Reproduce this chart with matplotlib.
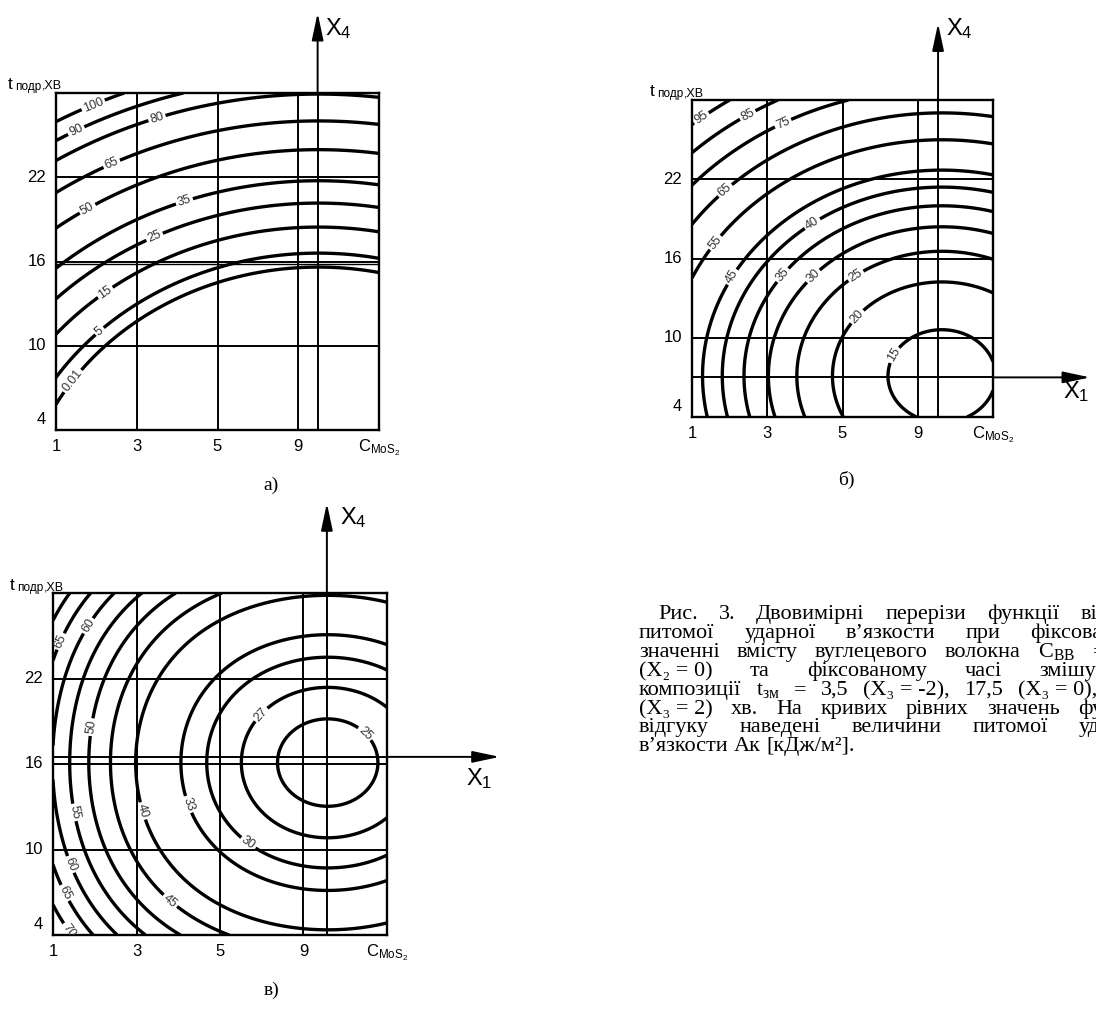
import numpy as np
import matplotlib
matplotlib.use('Agg')
import matplotlib.pyplot as plt

plt.rcParams['font.family'] = ['Liberation Sans', 'DejaVu Sans']
plt.rcParams['mathtext.fontset'] = 'custom'
plt.rcParams['mathtext.rm'] = 'Liberation Sans'
plt.rcParams['mathtext.it'] = 'Liberation Sans:italic'
plt.rcParams['mathtext.bf'] = 'Liberation Sans:bold'

W, H, DPI = 1096, 1019, 100

# ---------------- data ----------------
x_tick_labels = ['1', '3', '5', '9']      # C_MoS2 columns (drawn equally spaced)
y_tick_values = [4, 10, 16, 22]           # t_подр, хв
t_min, t_max = 4, 28

levels_a = [0.01, 5, 15, 25, 35, 50, 65, 80, 90, 100]
levels_b = [15, 20, 25, 30, 35, 40, 45, 55, 65, 75, 85, 95]
levels_c = [25, 27, 30, 33, 40, 45, 50, 55, 60, 65, 70, 75]

# response-surface coefficients (centred quadratic, then outer quadratic transform)
coef_a = dict(u0=3.25, t0=15.6, bu=0.0, bt=4.89, buu=3.35, btt=0.13, but=0.0, buutt=0.0,
              b0=0.0, c1=1.0, c2=0.0)
coef_b = dict(u0=3.32, t0=7.1, bu=0.0, bt=0.0, buu=1.0, btt=0.0416, but=0.0, buutt=0.0,
              b0=13.4, c1=3.125, c2=0.0)
coef_c = dict(u0=3.29, t0=16.1, bu=0.0, bt=0.0, buu=1.0, btt=0.0384, but=0.0, buutt=-0.0012,
              b0=24.0, c1=2.75, c2=0.052)

# contour-label anchors (level, column position, t)
labels_a = [(100, 0.44, 27.4), (90, 0.24, 25.5), (80, 1.23, 26.6), (65, 0.69, 23.0),
            (50, 0.42, 19.45), (35, 1.57, 20.6), (25, 1.23, 17.7), (15, 0.61, 13.8),
            (5, 0.56, 10.9), (0.01, 0.27, 7.2)]
labels_b = [(95, 0.17, 26.3), (85, 0.73, 27.0), (75, 1.21, 26.2), (65, 0.48, 20.9),
            (55, 0.35, 17.0), (45, 0.53, 14.6), (35, 1.21, 14.7), (30, 1.59, 14.8),
            (25, 2.14, 15.0), (40, 1.58, 18.8), (20, 2.2, 11.6), (15, 2.64, 8.85)]
labels_c = [(25, 3.74, 18.2), (27, 2.56, 19.1), (30, 2.37, 10.7), (33, 1.68, 13.3),
            (40, 1.2, 12.9), (45, 1.52, 7.2), (50, 0.44, 18.6), (55, 0.26, 12.6),
            (60, 0.26, 9.05), (65, 0.23, 7.2), (70, 0.45, 5.4), (60, 0.48, 25.5),
            (65, 0.17, 24.4)]

caption_lines = [
    (658, 619, ["Рис.", "3.", "Двовимірні", "перерізи", "функції", "відгуку"], True),
    (639, 638, ["питомої", "ударної", "в’язкости", "при", "фіксованому"], True),
    (639, 657, ["значенні", "вмісту", "вуглецевого", "волокна", r"C$_{\mathregular{BB}}$", "=", "7,5"], True),
    (639, 676, ["(X₂ = 0)", "та", "фіксованому", "часі", "змішування"], True),
    (639, 695, ["композиції", r"t$_{\mathregular{зм}}$", "=", "3,5", "(X₃ = -2),",
                "17,5", "(X₃ = 0),", "31,5"], True),
    (639, 714, ["(X₃ = 2)", "хв.", "На", "кривих", "рівних", "значень", "функції"], True),
    (639, 732, ["відгуку", "наведені", "величини", "питомої", "ударної"], True),
    (639, 751, ["в’язкости", "Ак", "[кДж/м²]."], False),
]


def surface(c, U, T):
    Uc = U - c['u0']
    Tc = T - c['t0']
    base = (c['bu'] * Uc + c['bt'] * Tc + c['buu'] * Uc ** 2 +
            c['btt'] * Tc ** 2 + c['but'] * Uc * Tc + c['buutt'] * Uc ** 2 * Tc ** 2)
    return c['b0'] + c['c1'] * base + c['c2'] * base ** 2


fig = plt.figure(figsize=(W / DPI, H / DPI), dpi=DPI)
fig.patch.set_facecolor('white')


def ptext(x, y, s, **kw):
    return fig.text(x / W, 1 - y / H, s, **kw)


ARROW = dict(arrowstyle='-|>,head_length=0.75,head_width=0.16', color='k',
             lw=1.4, shrinkA=0, shrinkB=0, mutation_scale=22)


def draw_panel(box, coef, levels, labels, x4_u, x4_top, x4_lab, ylab_xy, letter, letter_xy,
               x1=None, extra_h=None):
    l, t, r, b = box
    ax = fig.add_axes([l / W, 1 - b / H, (r - l) / W, (b - t) / H])
    ax.set_xlim(0, 4)
    ax.set_ylim(t_min, t_max)
    ax.set_xticks([])
    ax.set_yticks([])
    for s in ax.spines.values():
        s.set_linewidth(1.7)
    for u in (1, 2, 3):
        ax.axvline(u, color='k', lw=1.4)
    for tt in y_tick_values[1:]:
        ax.axhline(tt, color='k', lw=1.4)
    ax.axvline(x4_u, color='k', lw=1.4)
    if extra_h is not None:
        ax.axhline(extra_h, color='k', lw=1.0)

    u = np.linspace(0, 4, 401)
    tg = np.linspace(t_min, t_max, 481)
    UU, TT = np.meshgrid(u, tg)
    Z = surface(coef, UU, TT)
    lv = sorted(levels)
    cs = ax.contour(UU, TT, Z, levels=lv, colors='k', linewidths=2.4)

    # snap each label anchor onto its own contour level
    paths = cs.get_paths()
    pos = []
    lab_levels = []
    trans = ax.transData
    for lev, lu, lt in labels:
        i = lv.index(lev)
        v = paths[i].vertices
        if len(v) == 0:
            continue
        dv = trans.transform(v)
        dp = trans.transform([(lu, lt)])[0]
        k = np.argmin(((dv - dp) ** 2).sum(axis=1))
        pos.append(tuple(v[k]))
        if lev not in lab_levels:
            lab_levels.append(lev)
    lab_levels = sorted(lab_levels)
    ax.clabel(cs, levels=lab_levels, manual=pos, inline=True, inline_spacing=2,
              fontsize=9, fmt='%g', colors='#333333')

    # X4 axis arrow
    ax.annotate('', xy=(x4_u, x4_top), xytext=(x4_u, t_max), xycoords='data',
                arrowprops=ARROW, annotation_clip=False)
    ax.text(x4_lab[0], x4_lab[1], r'$\mathregular{X_4}$', fontsize=17, va='center', ha='left',
            clip_on=False)
    if x1 is not None:
        t1, u_end, lab_u, lab_t = x1
        ax.axhline(t1, color='k', lw=1.4)
        ax.annotate('', xy=(u_end, t1), xytext=(4, t1), xycoords='data',
                    arrowprops=ARROW, annotation_clip=False)
        ax.text(lab_u, lab_t, r'$\mathregular{X_1}$', fontsize=17, va='center', ha='left',
                clip_on=False)

    # tick labels
    for tv in y_tick_values:
        if tv == t_min:
            ax.annotate(str(tv), xy=(0, tv), xytext=(-7, 2), textcoords='offset points',
                        ha='right', va='bottom', fontsize=12, annotation_clip=False)
        else:
            ax.annotate(str(tv), xy=(0, tv), xytext=(-7, 0), textcoords='offset points',
                        ha='right', va='center', fontsize=12, annotation_clip=False)
    for i, lab in enumerate(x_tick_labels):
        ax.annotate(lab, xy=(i, t_min), xytext=(0, -12), textcoords='offset points',
                    ha='center', va='center', fontsize=12, annotation_clip=False)
    ax.annotate(r'$\mathregular{C_{MoS_2}}$', xy=(4, t_min), xytext=(0, -13),
                textcoords='offset points', ha='center', va='center', fontsize=12,
                annotation_clip=False)

    # y label  t_подр, хв
    ptext(ylab_xy[0], ylab_xy[1], 't', fontsize=12.5, va='baseline', ha='left')
    ptext(ylab_xy[0] + 7, ylab_xy[1] + 1, 'подр', fontsize=8.5, va='baseline', ha='left')
    ptext(ylab_xy[0] + 34, ylab_xy[1], ',ХВ', fontsize=9, va='baseline', ha='left')

    # panel letter
    ptext(letter_xy[0], letter_xy[1], letter, fontsize=14, family='Liberation Serif',
          ha='center', va='center')
    return ax


draw_panel((56, 93, 379, 430), coef_a, levels_a, labels_a, 3.24, 33.7, (3.33, 32.6),
           (8, 89), 'а)', (271, 485), extra_h=15.8)
draw_panel((692, 100, 993, 417), coef_b, levels_b, labels_b, 3.27, 33.8, (3.38, 33.4),
           (650, 96), 'б)', (846, 480), x1=(7.0, 5.29, 4.93, 5.9))
draw_panel((53, 593, 387, 935), coef_c, levels_c, labels_c, 3.28, 34.3, (3.44, 33.3),
           (10, 590), 'в)', (272, 990), x1=(16.5, 5.35, 4.95, 15.0))

# ---------------- caption (justified) ----------------
renderer = fig.canvas.get_renderer()
R_EDGE = 1150
CAP_FS = 16
CAP_FAMILY = ['Liberation Serif', 'DejaVu Serif']


def text_width(s):
    o = fig.text(0, 0, s, fontsize=CAP_FS, family=CAP_FAMILY)
    w = o.get_window_extent(renderer=renderer).width
    o.remove()
    return w


space_w = text_width('a a') - text_width('aa')
for x0, yb, words, justify in caption_lines:
    objs = [fig.text(0, 0, w, fontsize=CAP_FS, family=CAP_FAMILY,
                     ha='left', va='baseline') for w in words]
    widths = [o.get_window_extent(renderer=renderer).width for o in objs]
    gap = space_w
    if justify and len(words) > 1:
        gap = max(space_w, (R_EDGE - x0 - sum(widths)) / (len(words) - 1))
    x = x0
    for o, w in zip(objs, widths):
        o.set_position((x / W, 1 - yb / H))
        x += w + gap

fig.savefig('out.png', dpi=DPI, facecolor='white')
